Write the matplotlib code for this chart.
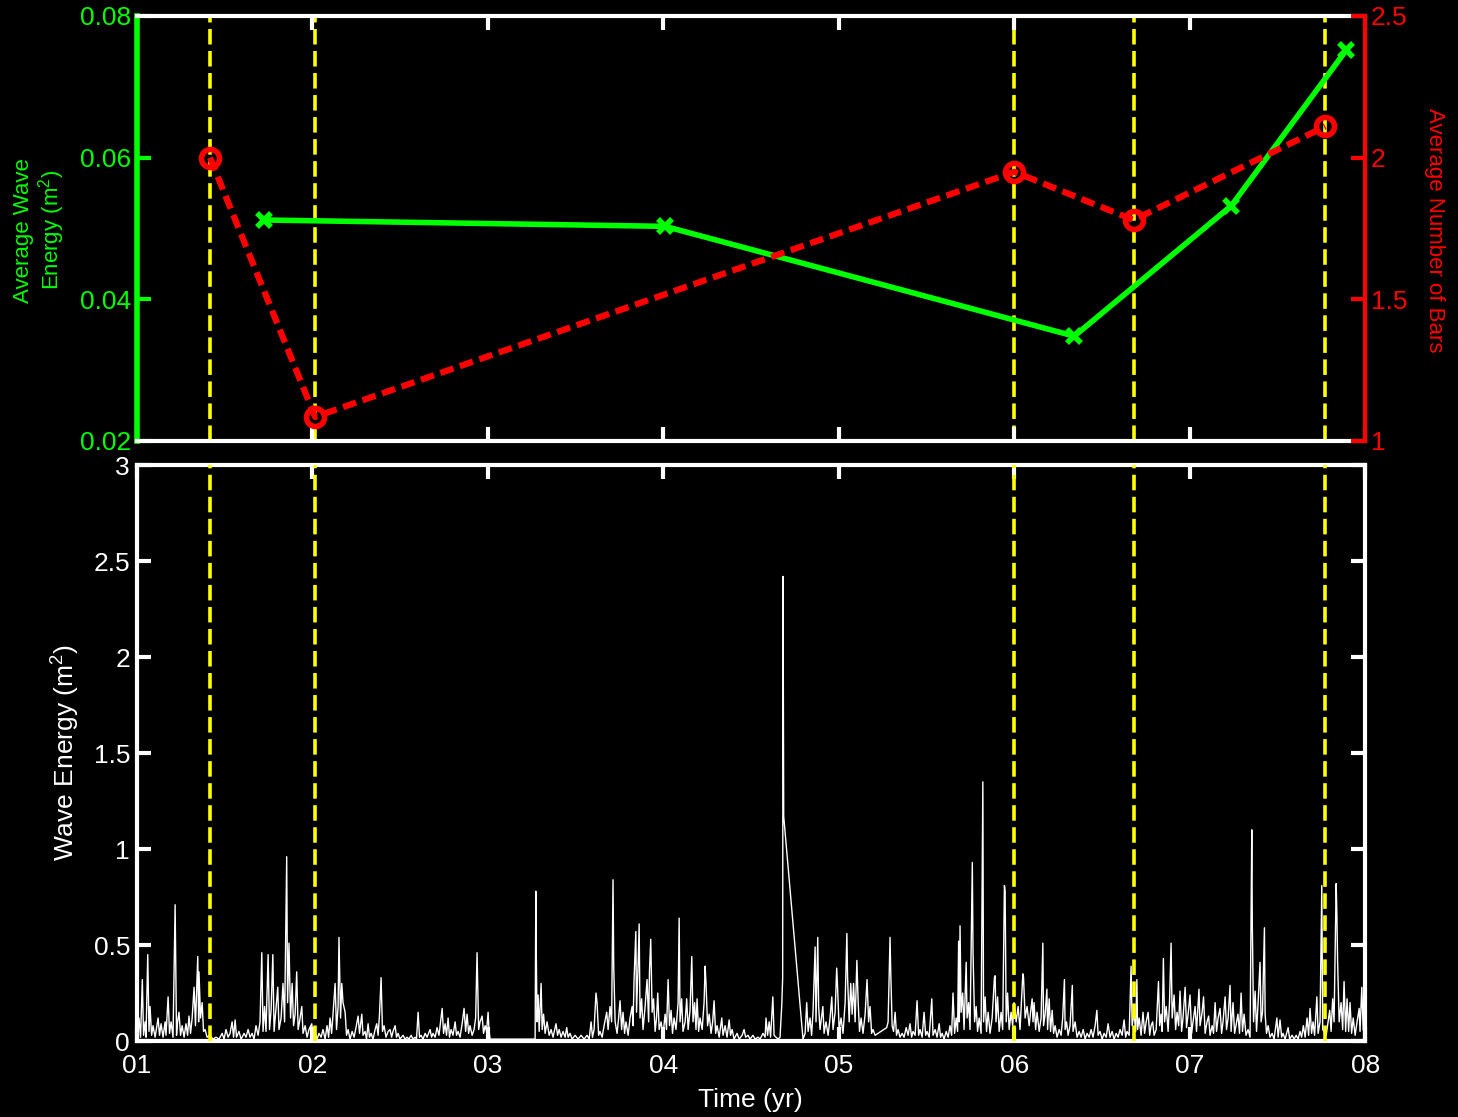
import numpy as np
import matplotlib.pyplot as plt

plt.rcParams['font.family'] = ['Liberation Sans', 'DejaVu Sans']
plt.rcParams['mathtext.fontset'] = 'custom'
plt.rcParams['mathtext.rm'] = 'Liberation Sans'

# top panel: averages between surveys (time in years, 01 = 2001)
energy_year = [1.724, 4.010, 6.342, 7.237, 7.893]
energy_avg = [0.0512, 0.0503, 0.0348, 0.0532, 0.0752]

bars_year = [1.416, 2.015, 6.000, 6.680, 7.773]
bars_avg = [2.00, 1.085, 1.95, 1.78, 2.11]

# survey dates (yellow dashed lines)
survey_year = [1.416, 2.015, 6.000, 6.680, 7.773]

xtick_pos = [1, 2, 3, 4, 5, 6, 7, 8]
xtick_lab = ['01', '02', '03', '04', '05', '06', '07', '08']

# bottom panel: wave energy record (year, m^2)
wave = [
    (1.000, 0.05), (1.011, 0.12), (1.020, 0.02), (1.030, 0.32), (1.037, 0.03), (1.046, 0.10),
    (1.051, 0.02), (1.061, 0.45), (1.068, 0.05), (1.074, 0.18), (1.083, 0.03), (1.091, 0.08),
    (1.103, 0.02), (1.120, 0.12), (1.128, 0.03), (1.137, 0.09), (1.148, 0.02), (1.160, 0.10),
    (1.165, 0.03), (1.177, 0.23), (1.185, 0.04), (1.194, 0.10), (1.205, 0.02), (1.217, 0.71),
    (1.225, 0.03), (1.231, 0.10), (1.239, 0.15), (1.248, 0.03), (1.257, 0.08), (1.268, 0.02),
    (1.279, 0.09), (1.288, 0.03), (1.296, 0.13), (1.305, 0.04), (1.314, 0.12), (1.325, 0.28),
    (1.333, 0.08), (1.346, 0.44), (1.351, 0.10), (1.353, 0.36), (1.362, 0.12), (1.371, 0.20),
    (1.379, 0.05), (1.388, 0.06), (1.399, 0.02), (1.416, 0.03), (1.433, 0.01), (1.450, 0.02),
    (1.467, 0.01), (1.485, 0.04), (1.496, 0.01), (1.507, 0.06), (1.519, 0.02), (1.530, 0.04),
    (1.542, 0.10), (1.550, 0.02), (1.559, 0.11), (1.567, 0.02), (1.581, 0.05), (1.593, 0.01),
    (1.610, 0.04), (1.621, 0.02), (1.633, 0.06), (1.644, 0.02), (1.656, 0.04), (1.667, 0.01),
    (1.678, 0.08), (1.690, 0.03), (1.701, 0.10), (1.711, 0.46), (1.718, 0.05), (1.727, 0.18),
    (1.735, 0.05), (1.747, 0.45), (1.755, 0.06), (1.764, 0.16), (1.774, 0.45), (1.781, 0.05),
    (1.789, 0.14), (1.802, 0.28), (1.809, 0.06), (1.821, 0.12), (1.832, 0.30), (1.841, 0.10),
    (1.853, 0.96), (1.858, 0.20), (1.866, 0.51), (1.875, 0.12), (1.884, 0.30), (1.892, 0.08),
    (1.901, 0.14), (1.910, 0.36), (1.918, 0.06), (1.926, 0.10), (1.939, 0.18), (1.946, 0.04),
    (1.958, 0.08), (1.969, 0.02), (1.980, 0.06), (1.996, 0.09), (2.003, 0.02), (2.015, 0.05),
    (2.026, 0.01), (2.037, 0.04), (2.049, 0.02), (2.060, 0.06), (2.072, 0.01), (2.083, 0.08),
    (2.092, 0.02), (2.100, 0.12), (2.109, 0.04), (2.117, 0.14), (2.129, 0.30), (2.137, 0.06),
    (2.146, 0.18), (2.151, 0.54), (2.160, 0.12), (2.167, 0.30), (2.174, 0.20), (2.186, 0.15),
    (2.194, 0.03), (2.203, 0.06), (2.214, 0.01), (2.226, 0.05), (2.237, 0.02), (2.248, 0.07),
    (2.260, 0.13), (2.268, 0.04), (2.281, 0.14), (2.288, 0.03), (2.300, 0.05), (2.308, 0.01),
    (2.317, 0.09), (2.325, 0.02), (2.334, 0.04), (2.345, 0.01), (2.357, 0.06), (2.366, 0.09),
    (2.374, 0.03), (2.382, 0.14), (2.391, 0.33), (2.399, 0.05), (2.408, 0.08), (2.419, 0.02),
    (2.431, 0.05), (2.442, 0.06), (2.451, 0.02), (2.459, 0.05), (2.471, 0.08), (2.479, 0.02),
    (2.488, 0.04), (2.499, 0.01), (2.516, 0.03), (2.528, 0.01), (2.539, 0.02), (2.550, 0.01),
    (2.562, 0.03), (2.573, 0.01), (2.585, 0.02), (2.593, 0.01), (2.602, 0.15), (2.610, 0.02),
    (2.619, 0.03), (2.630, 0.01), (2.642, 0.04), (2.653, 0.02), (2.670, 0.06), (2.679, 0.02),
    (2.687, 0.04), (2.699, 0.02), (2.710, 0.07), (2.721, 0.03), (2.730, 0.10), (2.739, 0.17),
    (2.747, 0.04), (2.756, 0.09), (2.764, 0.03), (2.773, 0.12), (2.781, 0.02), (2.790, 0.06),
    (2.801, 0.03), (2.813, 0.10), (2.821, 0.03), (2.830, 0.05), (2.841, 0.02), (2.853, 0.09),
    (2.864, 0.17), (2.873, 0.05), (2.881, 0.14), (2.890, 0.04), (2.898, 0.08), (2.910, 0.03),
    (2.921, 0.06), (2.930, 0.12), (2.938, 0.46), (2.947, 0.06), (2.955, 0.10), (2.967, 0.13),
    (2.975, 0.04), (2.984, 0.08), (2.992, 0.05), (3.001, 0.15), (3.006, 0.06), (3.012, 0.01),
    (3.269, 0.01), (3.273, 0.78), (3.276, 0.43), (3.280, 0.10), (3.286, 0.24), (3.292, 0.05),
    (3.303, 0.30), (3.309, 0.06), (3.317, 0.14), (3.326, 0.04), (3.337, 0.10), (3.349, 0.03),
    (3.360, 0.06), (3.371, 0.02), (3.388, 0.09), (3.397, 0.03), (3.406, 0.06), (3.417, 0.02),
    (3.428, 0.05), (3.440, 0.02), (3.449, 0.07), (3.457, 0.02), (3.468, 0.04), (3.480, 0.01),
    (3.497, 0.03), (3.514, 0.01), (3.531, 0.03), (3.548, 0.01), (3.565, 0.03), (3.577, 0.01),
    (3.588, 0.10), (3.596, 0.02), (3.605, 0.06), (3.616, 0.25), (3.622, 0.20), (3.631, 0.03),
    (3.639, 0.05), (3.651, 0.02), (3.662, 0.08), (3.677, 0.15), (3.685, 0.06), (3.696, 0.18),
    (3.705, 0.10), (3.713, 0.84), (3.717, 0.39), (3.725, 0.10), (3.736, 0.04), (3.745, 0.12),
    (3.753, 0.21), (3.762, 0.06), (3.770, 0.15), (3.779, 0.04), (3.787, 0.10), (3.799, 0.03),
    (3.810, 0.12), (3.822, 0.18), (3.827, 0.08), (3.833, 0.32), (3.843, 0.57), (3.847, 0.15),
    (3.856, 0.40), (3.862, 0.61), (3.867, 0.12), (3.876, 0.22), (3.884, 0.06), (3.896, 0.18),
    (3.907, 0.32), (3.916, 0.10), (3.921, 0.37), (3.928, 0.53), (3.936, 0.15), (3.944, 0.22),
    (3.953, 0.05), (3.961, 0.12), (3.968, 0.25), (3.976, 0.06), (3.987, 0.10), (3.998, 0.03),
    (4.010, 0.14), (4.018, 0.06), (4.027, 0.32), (4.035, 0.08), (4.044, 0.16), (4.052, 0.04),
    (4.061, 0.12), (4.072, 0.06), (4.084, 0.20), (4.090, 0.64), (4.095, 0.10), (4.104, 0.22),
    (4.112, 0.05), (4.124, 0.10), (4.133, 0.22), (4.141, 0.06), (4.152, 0.16), (4.162, 0.44),
    (4.169, 0.10), (4.178, 0.20), (4.186, 0.06), (4.192, 0.22), (4.201, 0.05), (4.209, 0.12),
    (4.221, 0.06), (4.232, 0.20), (4.238, 0.39), (4.243, 0.30), (4.252, 0.08), (4.261, 0.14),
    (4.272, 0.04), (4.281, 0.10), (4.289, 0.21), (4.298, 0.04), (4.306, 0.08), (4.318, 0.02),
    (4.333, 0.12), (4.340, 0.03), (4.352, 0.08), (4.363, 0.02), (4.375, 0.11), (4.383, 0.03),
    (4.392, 0.06), (4.403, 0.01), (4.420, 0.04), (4.432, 0.01), (4.449, 0.03), (4.460, 0.06),
    (4.469, 0.02), (4.483, 0.03), (4.494, 0.01), (4.511, 0.03), (4.523, 0.01), (4.540, 0.02),
    (4.551, 0.01), (4.568, 0.04), (4.580, 0.02), (4.585, 0.12), (4.594, 0.03), (4.603, 0.10),
    (4.611, 0.02), (4.624, 0.23), (4.631, 0.03), (4.642, 0.02), (4.654, 0.01), (4.665, 0.02),
    (4.675, 0.19), (4.680, 0.33), (4.682, 2.42), (4.686, 1.17), (4.796, 0.01), (4.808, 0.04),
    (4.817, 0.20), (4.825, 0.05), (4.836, 0.12), (4.845, 0.03), (4.853, 0.15), (4.865, 0.49),
    (4.870, 0.10), (4.880, 0.54), (4.885, 0.18), (4.893, 0.06), (4.909, 0.18), (4.916, 0.04),
    (4.927, 0.10), (4.939, 0.03), (4.950, 0.12), (4.960, 0.23), (4.967, 0.06), (4.979, 0.15),
    (4.988, 0.38), (4.993, 0.28), (5.002, 0.06), (5.013, 0.12), (5.024, 0.04), (5.036, 0.20),
    (5.046, 0.56), (5.050, 0.33), (5.059, 0.10), (5.068, 0.30), (5.076, 0.14), (5.084, 0.30),
    (5.093, 0.10), (5.103, 0.42), (5.110, 0.21), (5.118, 0.05), (5.127, 0.12), (5.138, 0.04),
    (5.150, 0.14), (5.161, 0.32), (5.170, 0.10), (5.178, 0.18), (5.187, 0.04), (5.195, 0.06),
    (5.207, 0.03), (5.273, 0.07), (5.281, 0.10), (5.292, 0.54), (5.296, 0.36), (5.304, 0.08),
    (5.312, 0.05), (5.321, 0.15), (5.329, 0.03), (5.338, 0.06), (5.349, 0.02), (5.361, 0.04),
    (5.372, 0.02), (5.384, 0.07), (5.395, 0.03), (5.406, 0.09), (5.415, 0.02), (5.423, 0.05),
    (5.435, 0.03), (5.446, 0.21), (5.455, 0.03), (5.463, 0.06), (5.475, 0.02), (5.486, 0.15),
    (5.495, 0.03), (5.503, 0.05), (5.515, 0.02), (5.530, 0.22), (5.537, 0.03), (5.549, 0.06),
    (5.560, 0.02), (5.572, 0.09), (5.580, 0.02), (5.589, 0.04), (5.600, 0.01), (5.612, 0.05),
    (5.623, 0.02), (5.634, 0.08), (5.643, 0.03), (5.651, 0.25), (5.660, 0.04), (5.669, 0.12),
    (5.677, 0.05), (5.683, 0.52), (5.687, 0.10), (5.691, 0.60), (5.697, 0.15), (5.706, 0.25),
    (5.714, 0.06), (5.726, 0.41), (5.731, 0.12), (5.740, 0.20), (5.748, 0.06), (5.761, 0.93),
    (5.765, 0.46), (5.774, 0.10), (5.783, 0.18), (5.791, 0.05), (5.800, 0.12), (5.811, 0.04),
    (5.821, 1.35), (5.825, 0.10), (5.834, 0.23), (5.842, 0.05), (5.851, 0.15), (5.862, 0.04),
    (5.874, 0.12), (5.887, 0.33), (5.891, 0.34), (5.896, 0.10), (5.905, 0.23), (5.914, 0.05),
    (5.925, 0.15), (5.934, 0.06), (5.944, 0.81), (5.948, 0.78), (5.954, 0.10), (5.962, 0.25),
    (5.971, 0.06), (5.982, 0.15), (5.991, 0.08), (5.999, 0.20), (6.011, 0.10), (6.022, 0.18),
    (6.033, 0.06), (6.049, 0.35), (6.053, 0.33), (6.062, 0.12), (6.073, 0.18), (6.085, 0.08),
    (6.093, 0.15), (6.102, 0.22), (6.107, 0.10), (6.113, 0.20), (6.122, 0.06), (6.130, 0.15),
    (6.142, 0.05), (6.153, 0.12), (6.163, 0.51), (6.167, 0.08), (6.176, 0.14), (6.186, 0.27),
    (6.190, 0.06), (6.199, 0.22), (6.207, 0.05), (6.216, 0.16), (6.224, 0.04), (6.233, 0.08),
    (6.244, 0.02), (6.256, 0.06), (6.267, 0.03), (6.276, 0.12), (6.286, 0.32), (6.290, 0.06),
    (6.298, 0.10), (6.307, 0.03), (6.318, 0.08), (6.331, 0.29), (6.335, 0.05), (6.347, 0.10),
    (6.358, 0.02), (6.370, 0.05), (6.381, 0.02), (6.393, 0.06), (6.404, 0.01), (6.415, 0.04),
    (6.427, 0.02), (6.438, 0.06), (6.449, 0.02), (6.461, 0.08), (6.471, 0.16), (6.478, 0.03),
    (6.489, 0.05), (6.501, 0.01), (6.512, 0.04), (6.524, 0.02), (6.535, 0.09), (6.546, 0.02),
    (6.558, 0.05), (6.569, 0.01), (6.581, 0.04), (6.592, 0.02), (6.603, 0.06), (6.615, 0.03),
    (6.626, 0.11), (6.635, 0.02), (6.643, 0.05), (6.655, 0.03), (6.666, 0.39), (6.672, 0.08),
    (6.683, 0.15), (6.692, 0.05), (6.699, 0.32), (6.703, 0.06), (6.712, 0.12), (6.723, 0.03),
    (6.734, 0.15), (6.743, 0.04), (6.752, 0.10), (6.763, 0.15), (6.772, 0.03), (6.780, 0.08),
    (6.789, 0.10), (6.797, 0.03), (6.809, 0.06), (6.822, 0.31), (6.829, 0.08), (6.837, 0.14),
    (6.843, 0.05), (6.850, 0.43), (6.857, 0.10), (6.866, 0.18), (6.877, 0.05), (6.885, 0.20),
    (6.894, 0.51), (6.900, 0.12), (6.911, 0.24), (6.920, 0.06), (6.928, 0.15), (6.937, 0.08),
    (6.945, 0.26), (6.954, 0.05), (6.962, 0.12), (6.974, 0.28), (6.982, 0.07), (6.991, 0.14),
    (7.002, 0.24), (7.011, 0.04), (7.019, 0.10), (7.031, 0.18), (7.039, 0.05), (7.053, 0.27),
    (7.059, 0.08), (7.071, 0.15), (7.079, 0.23), (7.088, 0.04), (7.099, 0.10), (7.108, 0.13),
    (7.116, 0.03), (7.128, 0.08), (7.136, 0.04), (7.145, 0.20), (7.153, 0.05), (7.162, 0.12),
    (7.173, 0.17), (7.182, 0.04), (7.190, 0.10), (7.202, 0.23), (7.210, 0.06), (7.219, 0.12),
    (7.230, 0.29), (7.236, 0.05), (7.247, 0.20), (7.256, 0.04), (7.264, 0.08), (7.275, 0.14),
    (7.284, 0.04), (7.293, 0.25), (7.301, 0.05), (7.310, 0.14), (7.321, 0.03), (7.333, 0.06),
    (7.344, 0.02), (7.354, 1.10), (7.357, 0.60), (7.364, 0.10), (7.373, 0.26), (7.381, 0.05),
    (7.390, 0.20), (7.401, 0.41), (7.407, 0.10), (7.415, 0.15), (7.426, 0.59), (7.430, 0.14),
    (7.438, 0.04), (7.447, 0.08), (7.458, 0.02), (7.470, 0.04), (7.481, 0.01), (7.497, 0.12),
    (7.504, 0.02), (7.515, 0.11), (7.524, 0.02), (7.532, 0.04), (7.544, 0.01), (7.561, 0.07),
    (7.570, 0.01), (7.584, 0.03), (7.595, 0.01), (7.607, 0.03), (7.618, 0.01), (7.629, 0.05),
    (7.638, 0.02), (7.648, 0.08), (7.658, 0.02), (7.669, 0.12), (7.678, 0.03), (7.686, 0.17),
    (7.695, 0.04), (7.703, 0.10), (7.712, 0.03), (7.725, 0.23), (7.732, 0.04), (7.743, 0.10),
    (7.753, 0.81), (7.758, 0.06), (7.766, 0.05), (7.778, 0.03), (7.789, 0.10), (7.798, 0.16),
    (7.806, 0.05), (7.815, 0.22), (7.823, 0.10), (7.835, 0.82), (7.839, 0.66), (7.843, 0.42),
    (7.852, 0.10), (7.863, 0.20), (7.872, 0.06), (7.880, 0.31), (7.889, 0.05), (7.897, 0.22),
    (7.906, 0.05), (7.914, 0.20), (7.923, 0.04), (7.932, 0.12), (7.943, 0.03), (7.954, 0.10),
    (7.966, 0.17), (7.971, 0.05), (7.981, 0.28), (7.989, 0.06), (7.994, 0.05),
]
wave_t = np.array([w[0] for w in wave])
wave_e = np.array([w[1] for w in wave])

GREEN = '#00ff00'
RED = '#ff0000'
YELLOW = '#ffff00'
TICK_FS = 19

fig = plt.figure(figsize=(14.58, 11.17), dpi=100, facecolor='black')
ax1 = fig.add_axes([0.0940, 0.6052, 0.8423, 0.3805])
ax2 = ax1.twinx()
ax3 = fig.add_axes([0.0940, 0.0680, 0.8423, 0.5157])
ax1.set_facecolor('black')
ax3.set_facecolor('black')

# ---- top panel
for yr in survey_year:
    ax1.axvline(yr, color=YELLOW, lw=2.6, ls=(0, (4.3, 1.8)), zorder=1)
ax1.plot(energy_year, energy_avg, color=GREEN, lw=4, marker='x', ms=10, mew=4, zorder=3)
ax2.plot(bars_year, bars_avg, color=RED, lw=4.5, ls=(0, (2.2, 1.1)), marker='o', ms=13,
         mfc='none', mew=4, zorder=3)

ax1.set_xlim(1, 8)
ax1.set_ylim(0.02, 0.08)
ax2.set_ylim(1, 2.5)
ax1.set_xticks(xtick_pos)
ax1.set_yticks([0.02, 0.04, 0.06, 0.08])
ax1.set_yticklabels(['0.02', '0.04', '0.06', '0.08'])
ax2.set_yticks([1, 1.5, 2, 2.5])
ax2.set_yticklabels(['1', '1.5', '2', '2.5'])

ax1.tick_params(axis='x', which='both', direction='in', top=True, bottom=True,
                labelbottom=False, color='white', length=10, width=3)
ax1.tick_params(axis='y', direction='in', color=GREEN, labelcolor=GREEN,
                length=10, width=3, labelsize=TICK_FS, pad=4)
ax2.tick_params(axis='y', direction='in', color=RED, labelcolor=RED,
                length=10, width=3, labelsize=TICK_FS, pad=4)

for name, sp in ax1.spines.items():
    sp.set_linewidth(3)
    sp.set_color('white')
ax1.spines['left'].set_color(GREEN)
ax1.spines['left'].set_linewidth(4)
ax1.spines['right'].set_visible(False)
for name, sp in ax2.spines.items():
    sp.set_visible(False)
ax2.spines['right'].set_visible(True)
ax2.spines['right'].set_color(RED)
ax2.spines['right'].set_linewidth(3)

fig.text(0.0275, 0.794, 'Average Wave\nEnergy (m$^{2}$)', color=GREEN, fontsize=16,
         rotation=90, ha='center', va='center', multialignment='center', linespacing=1.1)
fig.text(0.984, 0.794, 'Average Number of Bars', color=RED, fontsize=16,
         rotation=-90, ha='center', va='center')

# ---- bottom panel
ax3.plot(wave_t, wave_e, color='white', lw=1, zorder=2)
for yr in survey_year:
    ax3.axvline(yr, color=YELLOW, lw=2.6, ls=(0, (4.3, 1.8)), zorder=3)

ax3.set_xlim(1, 8)
ax3.set_ylim(0, 3)
ax3.set_xticks(xtick_pos)
ax3.set_xticklabels(xtick_lab)
ax3.set_yticks([0, 0.5, 1, 1.5, 2, 2.5, 3])
ax3.set_yticklabels(['0', '0.5', '1', '1.5', '2', '2.5', '3'])
ax3.tick_params(axis='both', which='both', direction='in', top=True, right=True,
                color='white', labelcolor='white', length=10, width=3, labelsize=TICK_FS)
ax3.tick_params(axis='x', pad=9)
ax3.tick_params(axis='y', pad=5)
for sp in ax3.spines.values():
    sp.set_color('white')
    sp.set_linewidth(3)

fig.text(0.0446, 0.326, 'Wave Energy (m$^{2}$)', color='white', fontsize=19,
         rotation=90, ha='center', va='center')
fig.text(0.515, 0.0152, 'Time (yr)', color='white', fontsize=19, ha='center', va='center')

fig.savefig('out.png', dpi=100, facecolor='black')
